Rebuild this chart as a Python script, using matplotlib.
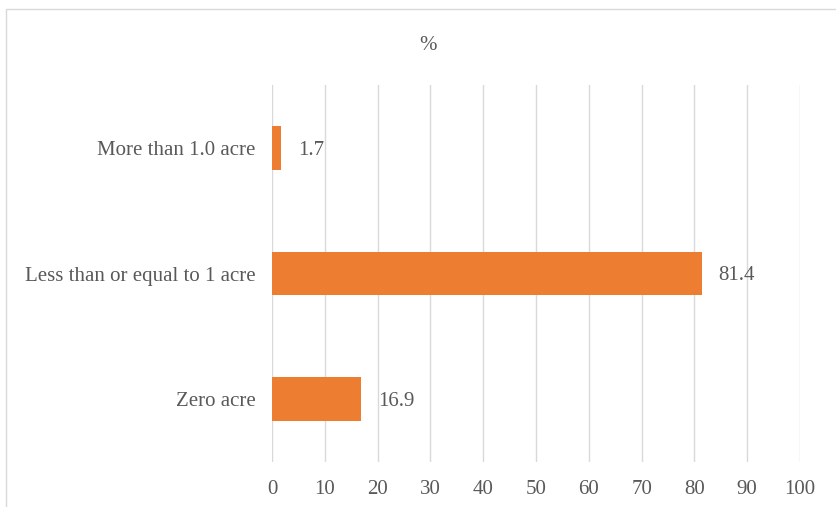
import matplotlib.pyplot as plt
from matplotlib.patches import Rectangle

categories = ["Zero acre", "Less than or equal to 1 acre", "More than 1.0 acre"]
values = [16.9, 81.4, 1.7]
xticks = [0, 10, 20, 30, 40, 50, 60, 70, 80, 90, 100]

plt.rcParams['font.family'] = ['Liberation Serif', 'DejaVu Serif']
text_color = '#595959'

W, H = 837, 507
fig = plt.figure(figsize=(W / 100, H / 100), dpi=100)
ax = fig.add_axes([272 / W, 1 - 462 / H, (800 - 272) / W, (462 - 85) / H])

# outer chart border (bottom and right run off the image)
fig.patches.append(Rectangle((6 / W, -0.05), 1.0, 1 - 9 / H + 0.05,
                             transform=fig.transFigure, fill=False,
                             edgecolor='#D9D9D9', linewidth=1.0))

bars = ax.barh(categories, values, height=0.35, color='#ED7D31', zorder=3)
for b, v in zip(bars, values):
    ax.text(v + 3.2, b.get_y() + b.get_height() / 2, f"{v}",
            va='center_baseline', ha='left', fontsize=15, color=text_color)

ax.set_xlim(0, 100)
ax.set_ylim(-0.5, 2.5)
ax.set_xticks(xticks)
ax.xaxis.grid(True, color='#D9D9D9', linewidth=1.0, zorder=0)
ax.tick_params(axis='both', length=0, labelsize=15, labelcolor=text_color)
ax.tick_params(axis='x', pad=13)
ax.tick_params(axis='y', pad=12)
for s in ax.spines.values():
    s.set_visible(False)

fig.text(428 / W, 1 - 46 / H, "%", ha='center', va='center',
         fontsize=15, color=text_color)

fig.savefig('out.png', dpi=100)
